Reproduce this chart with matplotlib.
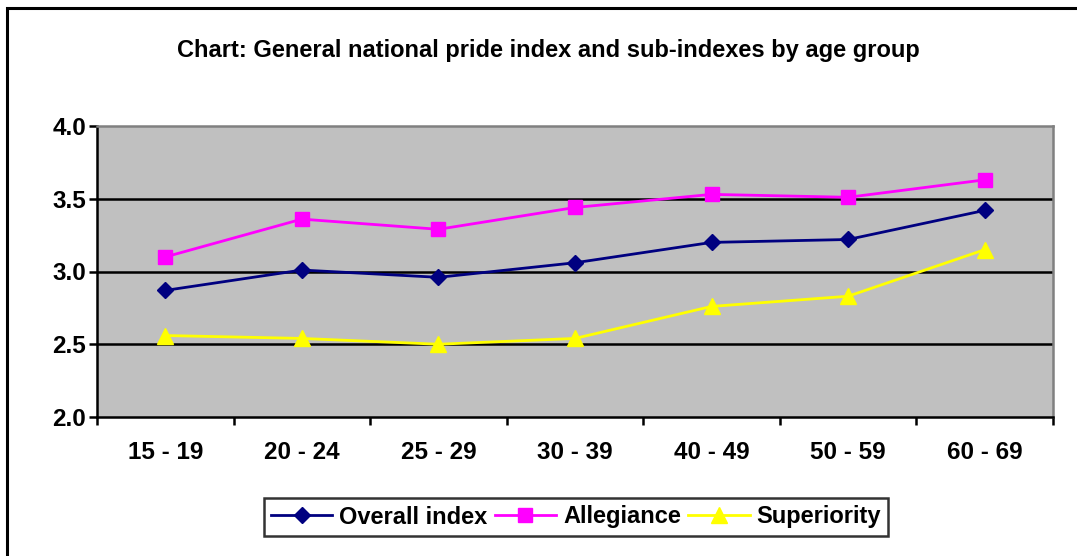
import matplotlib.pyplot as plt
from matplotlib.patches import Rectangle

# data
age_groups = ['15 - 19', '20 - 24', '25 - 29', '30 - 39', '40 - 49', '50 - 59', '60 - 69']
overall_index = [2.87, 3.01, 2.96, 3.06, 3.20, 3.22, 3.42]
allegiance = [3.10, 3.36, 3.29, 3.44, 3.53, 3.51, 3.63]
superiority = [2.56, 2.54, 2.50, 2.54, 2.76, 2.83, 3.15]
y_ticks = [2.0, 2.5, 3.0, 3.5, 4.0]

plt.rcParams['font.family'] = ['Liberation Sans', 'DejaVu Sans']
plt.rcParams['font.weight'] = 'bold'

fig = plt.figure(figsize=(10.77, 5.56), dpi=100)
ax = fig.add_axes([97 / 1077, 139 / 556, 956 / 1077, 291 / 556])

# outer chart frame (only left and top edges show in the reference)
fig.patches.append(Rectangle((7 / 1077, -0.1), 1.2, (556 - 8) / 556 + 0.1,
                             transform=fig.transFigure, fill=False,
                             edgecolor='black', linewidth=2.2, zorder=0))

ax.set_facecolor('#c0c0c0')
x = list(range(len(age_groups)))

ax.plot(x, overall_index, color='#000080', marker='D', markersize=8, linewidth=2,
        label='Overall index', zorder=3, clip_on=False)
ax.plot(x, allegiance, color='#ff00ff', marker='s', markersize=10, linewidth=2,
        label='Allegiance', zorder=3, clip_on=False)
ax.plot(x, superiority, color='#ffff00', marker='^', markersize=11, linewidth=2,
        label='Superiority', zorder=3, clip_on=False)

ax.set_xlim(-0.5, len(age_groups) - 0.5)
ax.set_ylim(2.0, 4.0)
ax.set_yticks(y_ticks)
ax.set_yticklabels([f'{v:.1f}' for v in y_ticks], fontsize=17.5, fontweight='bold')
for v in y_ticks[1:-1]:
    ax.axhline(v, color='black', linewidth=1.8, zorder=1)

# category labels between tick marks
ax.set_xticks([i - 0.5 for i in range(len(age_groups) + 1)])
ax.set_xticklabels([])
ax.set_xticks(x, minor=True)
ax.set_xticklabels(age_groups, minor=True, fontsize=17.5, fontweight='bold')
ax.tick_params(axis='x', which='minor', length=0, pad=17)
ax.tick_params(axis='x', which='major', length=6, width=1.8, direction='out')
ax.tick_params(axis='y', length=6, width=1.8, direction='out', pad=2)

ax.spines['left'].set_linewidth(1.8)
ax.spines['bottom'].set_linewidth(1.8)
ax.spines['top'].set_color('#808080')
ax.spines['right'].set_color('#808080')
ax.spines['top'].set_linewidth(1.8)
ax.spines['right'].set_linewidth(1.8)

fig.text(548 / 1077, 1 - 51 / 556,
         'Chart: General national pride index and sub-indexes by age group',
         ha='center', va='center', fontsize=17, fontweight='bold')

leg = fig.legend(loc='center', bbox_to_anchor=(576 / 1077, 1 - 517 / 556),
                 ncol=3, frameon=True, fancybox=False, edgecolor='black',
                 handlelength=2.6, handletextpad=0.3,
                 columnspacing=0.3, borderpad=0.3, prop={'weight': 'bold', 'size': 17})
leg.get_frame().set_linewidth(1.8)

fig.savefig('out.png', dpi=100)
